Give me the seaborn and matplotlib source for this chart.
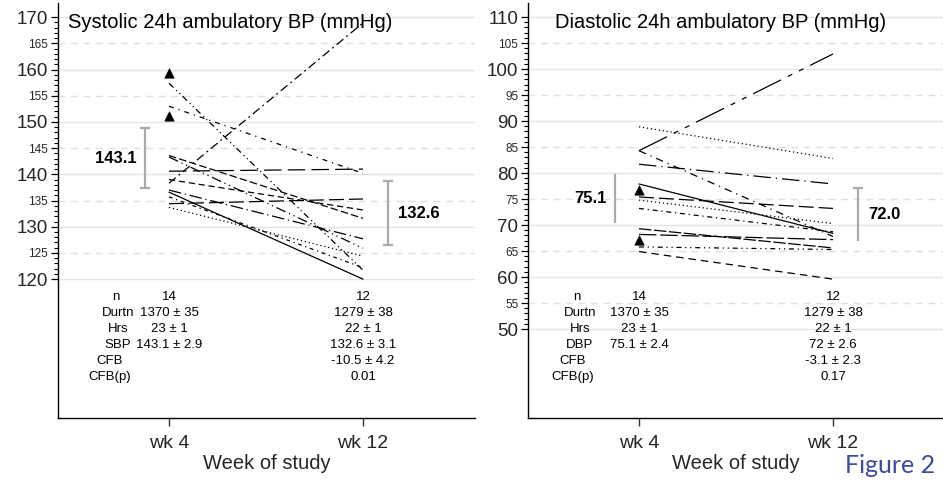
import numpy as np
import pandas as pd
import matplotlib
matplotlib.use("Agg")
import matplotlib.pyplot as plt
import matplotlib.transforms as mtransforms
from matplotlib.ticker import MultipleLocator
import seaborn as sns

# ---------------- data ----------------
weeks = ["wk 4", "wk 12"]

# Systolic (paired subjects, wk4 -> wk12)
sbp_wk4 = [138.3, 157.4, 153.0, 143.6, 143.3, 140.6, 139.0, 137.0, 136.6, 135.7, 134.4, 133.7]
sbp_wk12 = [168.9, 121.7, 140.2, 131.6, 125.9, 141.0, 133.2, 127.7, 120.0, 122.2, 135.3, 124.4]
sbp_wk4_only = [159.3, 151.1]

# Diastolic (paired subjects, wk4 -> wk12)
dbp_wk4 = [84.3, 88.9, 84.3, 81.7, 77.9, 75.4, 74.8, 73.2, 69.3, 68.2, 65.8, 64.9]
dbp_wk12 = [102.9, 82.8, 67.8, 77.9, 68.4, 73.2, 70.3, 68.7, 65.6, 67.2, 65.3, 59.6]
dbp_wk4_only = [76.7, 67.2]

sbp_mean = [143.1, 132.6]
sbp_se = [2.9, 3.1]
dbp_mean = [75.1, 72.0]
dbp_se = [2.4, 2.6]

sbp_row_labels = ["n", "Durtn", "Hrs", "SBP", "CFB", "CFB(p)"]
sbp_col_wk4 = ["14", "1370 ± 35", "23 ± 1", "143.1 ± 2.9", "", ""]
sbp_col_wk12 = ["12", "1279 ± 38", "22 ± 1", "132.6 ± 3.1", "-10.5 ± 4.2", "0.01"]

dbp_row_labels = ["n", "Durtn", "Hrs", "DBP", "CFB", "CFB(p)"]
dbp_col_wk4 = ["14", "1370 ± 35", "23 ± 1", "75.1 ± 2.4", "", ""]
dbp_col_wk12 = ["12", "1279 ± 38", "22 ± 1", "72 ± 2.6", "-3.1 ± 2.3", "0.17"]

titles = ["Systolic 24h ambulatory BP (mmHg)", "Diastolic 24h ambulatory BP (mmHg)"]

# ---------------- styles ----------------
sbp_dashes = [(7, 3, 1.5, 3), (5, 3, 1, 2.5, 1, 2.5), (4, 4, 1, 4), (6, 2.5), (8, 3, 1, 3, 1, 3),
              (14, 5), (5, 3), (10, 3, 1, 3), "", (3, 3, 1, 3), (12, 4), (1, 2.2)]
dbp_dashes = [(25, 6, 4, 6, 4, 6), (1, 2.2), (6, 4, 1, 4), (14, 4, 1, 4), "", (12, 4),
              (1, 2.2), (4, 3, 1, 3), (10, 2), (14, 3), (4, 3, 1, 3, 1, 3), (6, 4)]

sns.set_theme(style="white")
plt.rcParams["font.family"] = ["Liberation Sans", "DejaVu Sans"]

fig = plt.figure(figsize=(9.43, 4.86), dpi=100)
ax1 = fig.add_axes([58 / 943, 68 / 486, 417 / 943, 415 / 486])
ax2 = fig.add_axes([528 / 943, 68 / 486, 415 / 943, 415 / 486])


def make_df(a, b):
    n = len(a)
    return pd.DataFrame({
        "subject": [f"s{i}" for i in range(n)] * 2,
        "week": [0] * n + [1] * n,
        "value": list(a) + list(b),
    })


def draw_panel(ax, w4, w12, w4only, means, ses, dashes, ylim, yrange, title, title_x,
               rlabels, rlabel_x, col4, col12, caps):
    lo, hi = yrange
    # gridlines
    for v in range(lo, hi + 1, 5):
        if v % 10 == 0:
            ax.axhline(v, color="#e4e4e4", lw=1.0, zorder=0)
        else:
            ax.axhline(v, color="#e0e0e0", lw=1.0, ls=(0, (5, 4)), zorder=0)

    df = make_df(w4, w12)
    dmap = {f"s{i}": d for i, d in enumerate(dashes)}
    sns.lineplot(data=df, x="week", y="value", units="subject", estimator=None,
                 style="subject", dashes=dmap, color="black", lw=0.9,
                 legend=False, ax=ax, zorder=3)
    sns.scatterplot(x=[0] * len(w4only), y=w4only, marker="^", color="black",
                    s=45, edgecolor="black", ax=ax, zorder=4)

    # mean +/- 1.96 SE bars
    offs = [-0.124, 0.129]
    for k, (m, se) in enumerate(zip(means, ses)):
        half = 1.96 * se
        ax.errorbar(k + offs[k], m, yerr=half, color="#aaaaaa", lw=1.6,
                    capsize=0, zorder=2)
        cap = caps[k]
        if "top" in cap:
            ax.errorbar(k + offs[k], m + half, xerr=0.026, color="#aaaaaa", lw=1.6,
                        capsize=0, zorder=2)
        if "bottom" in cap:
            ax.errorbar(k + offs[k], m - half, xerr=0.026, color="#aaaaaa", lw=1.6,
                        capsize=0, zorder=2)
    ax.text(-0.165, means[0], f"{means[0]:.1f}", ha="right", va="center",
            fontsize=12, fontweight="bold", color="black")
    ax.text(1.18, means[1], f"{means[1]:.1f}", ha="left", va="center",
            fontsize=12, fontweight="bold", color="black")

    ax.set_xlim(-0.572, (ax.get_position().width * 943 - 111) / 194)
    ax.set_ylim(*ylim)
    ax.set_xticks([0, 1])
    ax.set_xticklabels(weeks, fontsize=14)
    ax.set_xlabel("Week of study", fontsize=14.5, labelpad=2)
    ax.set_ylabel("")

    ticks = list(range(lo, hi + 1, 5))
    ax.set_yticks(ticks)
    ax.set_yticklabels([str(t) for t in ticks])
    for t, lab in zip(ticks, ax.get_yticklabels()):
        lab.set_fontsize(13.5 if t % 10 == 0 else 8.5)
    ax.set_yticks([v for v in range(lo, hi + 1) if v % 5 != 0], minor=True)
    ax.tick_params(axis="y", which="major", direction="out", length=5, width=0.9,
                   color="black", pad=2, left=True)
    ax.tick_params(axis="y", which="minor", direction="out", length=3, width=0.8,
                   color="black", left=True)
    ax.tick_params(axis="x", which="major", direction="out", length=6, width=1,
                   color="#333333", pad=6, bottom=True)

    for s in ["top", "right"]:
        ax.spines[s].set_visible(False)
    for s in ["left", "bottom"]:
        ax.spines[s].set_color("black")
        ax.spines[s].set_linewidth(1.0)

    ax.text(title_x, 0.954, title, transform=ax.transAxes, ha="left", va="center",
            fontsize=14.5, color="black")

    trans = mtransforms.blended_transform_factory(ax.transData, ax.transAxes)
    row_y = [0.2916 - 0.0385 * i for i in range(len(rlabels))]
    for i, (lab, a, b) in enumerate(zip(rlabels, col4, col12)):
        ax.text(rlabel_x[i], row_y[i], lab, transform=trans, ha="center", va="center",
                fontsize=9.5, color="black")
        ax.text(0, row_y[i], a, transform=trans, ha="center", va="center",
                fontsize=9.5, color="black")
        ax.text(1, row_y[i], b, transform=trans, ha="center", va="center",
                fontsize=9.5, color="black")


draw_panel(ax1, sbp_wk4, sbp_wk12, sbp_wk4_only, sbp_mean, sbp_se, sbp_dashes,
           (93.5, 172.7), (120, 170), titles[0], 0.024, sbp_row_labels,
           [-0.273, -0.263, -0.263, -0.262, -0.304, -0.304], sbp_col_wk4, sbp_col_wk12,
           [("top", "bottom"), ("top", "bottom")])
draw_panel(ax2, dbp_wk4, dbp_wk12, dbp_wk4_only, dbp_mean, dbp_se, dbp_dashes,
           (32.9, 112.7), (50, 110), titles[1], 0.065, dbp_row_labels,
           [-0.32, -0.304, -0.304, -0.304, -0.34, -0.34], dbp_col_wk4, dbp_col_wk12,
           [(), ("top",)])

fig.text(0.9915, 0.027, "Figure 2", ha="right", va="baseline", fontsize=18,
         color="#3c4ba2", family=["Lato", "DejaVu Sans"])

fig.savefig("out.png", dpi=100, facecolor="white")
